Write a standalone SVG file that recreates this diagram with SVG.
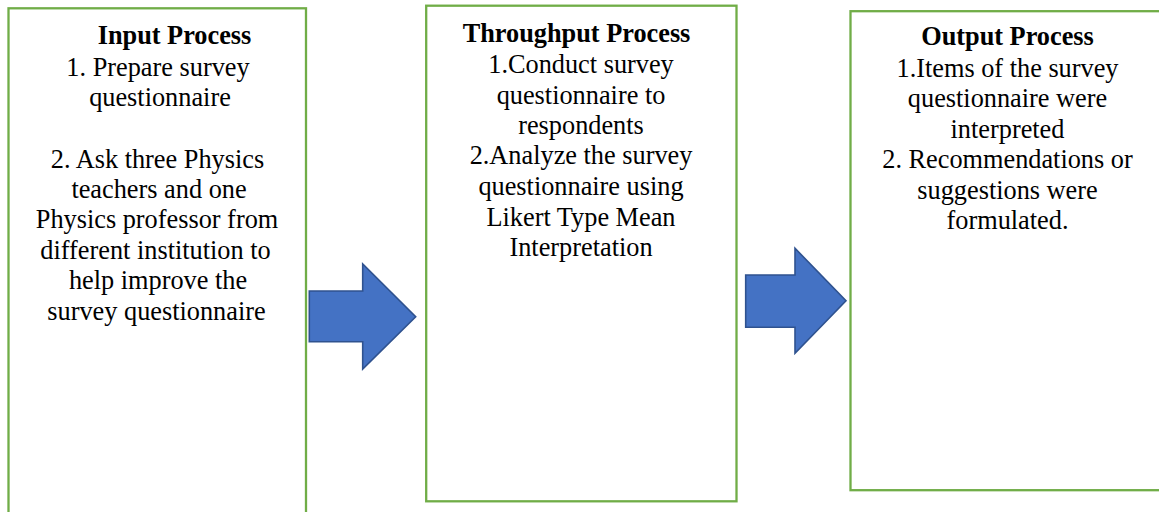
<svg xmlns="http://www.w3.org/2000/svg" width="1159" height="512" viewBox="0 0 1159 512">
<style>
.box{fill:#ffffff;stroke:#70AD47;stroke-width:2.3}
.arrow{fill:#4472C4;stroke:#2F528F;stroke-width:1.6;stroke-linejoin:miter}
text{font-family:"Liberation Serif",Tinos,"Times New Roman","Nimbus Roman","Nimbus Roman No9 L",FreeSerif,"DejaVu Serif",serif;font-weight:400;font-style:normal;font-size:26.3px;fill:#000000;text-anchor:middle}
text.title{font-weight:700}
</style>
<rect width="1159" height="512" fill="#ffffff"/>
<g id="input-process">
<rect class="box" x="8.5" y="8.3" width="297.5" height="520"/>
<text class="title" x="174.5" y="43.5">Input Process</text>
<text x="158" y="75.7">1. Prepare survey</text>
<text x="160" y="105.5">questionnaire</text>
<text x="157.5" y="167.5">2. Ask three Physics</text>
<text x="159" y="197.5">teachers and one</text>
<text x="157" y="228">Physics professor from</text>
<text x="155.5" y="258.5">different institution to</text>
<text x="158" y="289">help improve the</text>
<text x="156.5" y="319.5">survey questionnaire</text>
</g>
<g id="throughput-process">
<rect class="box" x="426.2" y="5.7" width="310.3" height="495.6"/>
<text class="title" x="576.5" y="41.7">Throughput Process</text>
<text x="581" y="73.3">1.Conduct survey</text>
<text x="581" y="104">questionnaire to</text>
<text x="581" y="133.5">respondents</text>
<text x="581" y="164.2">2.Analyze the survey</text>
<text x="581" y="194.8">questionnaire using</text>
<text x="581" y="225.5">Likert Type Mean</text>
<text x="581" y="255.7">Interpretation</text>
</g>
<g id="output-process">
<rect class="box" x="850.5" y="11.2" width="330" height="479"/>
<text class="title" x="1007.5" y="45">Output Process</text>
<text x="1007.5" y="76.7">1.Items of the survey</text>
<text x="1007.5" y="107.3">questionnaire were</text>
<text x="1007.5" y="137.5">interpreted</text>
<text x="1007.5" y="168.3">2. Recommendations or</text>
<text x="1007.5" y="198.5">suggestions were</text>
<text x="1007.5" y="229">formulated.</text>
</g>
<g id="connectors">
<path class="arrow" d="M309.3,291 L362.7,291 L362.7,264 L415.7,316.7 L362.7,369 L362.7,341.7 L309.3,341.7 Z"/>
<path class="arrow" d="M745.7,275 L795,275 L795,248.3 L846,300.7 L795,353.3 L795,327.3 L745.7,327.3 Z"/>
</g>
</svg>
